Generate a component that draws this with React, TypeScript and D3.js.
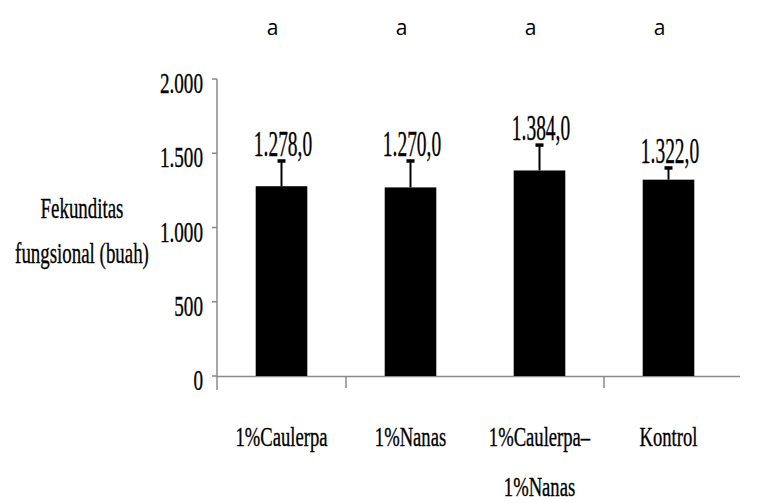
import React from "react";
import * as d3 from "d3";

const categories: string[][] = [["1%Caulerpa"], ["1%Nanas"], ["1%Caulerpa–", "1%Nanas"], ["Kontrol"]];
const means: number[] = [1278, 1270, 1384, 1322];
const errors: number[] = [170, 178, 171, 79];
const valueLabels: string[] = ["1.278,0", "1.270,0", "1.384,0", "1.322,0"];
const letters: string[] = ["a", "a", "a", "a"];
const yTicks: number[] = [0, 500, 1000, 1500, 2000];
const yTickLabels: string[] = ["0", "500", "1.000", "1.500", "2.000"];
const yTitle: string[] = ["Fekunditas", "fungsional (buah)"];
const xTickIdx: number[] = [1, 3];

const W = 758;
const H = 503;
const axisX = 217;
const x = d3
  .scaleBand<number>()
  .domain(d3.range(means.length))
  .range([axisX, axisX + 516])
  .paddingInner(0.6)
  .paddingOuter(0.3);
const y = d3.scaleLinear().domain([0, 2000]).range([376, 79]);
const serif = "'Liberation Serif', 'Times New Roman', serif";
const axisColor = "#8a8a8a";
const ink = { fill: "#000", stroke: "#000", strokeWidth: 0.35 };

export default function App() {
  const step = x.step();
  const bw = x.bandwidth();
  return (
    <svg
      width={W}
      height={H}
      style={{ position: "absolute", left: 0, top: 0, background: "#fff" }}
    >
      <rect x={0} y={0} width={W} height={H} fill="#fff" />
      {/* y axis */}
      <line x1={axisX} x2={axisX} y1={y(2000)} y2={y(0) + 14} stroke={axisColor} strokeWidth={1.5} />
      {yTicks.map((t, i) => (
        <g key={t}>
          <line x1={axisX - 5} x2={axisX} y1={y(t)} y2={y(t)} stroke={axisColor} strokeWidth={1.5} />
          <text
            transform={`translate(203,${y(t) + 14}) scale(0.66,1)`}
            textAnchor="end"
            fontFamily={serif}
            fontSize={29}
            {...ink}
          >
            {yTickLabels[i]}
          </text>
        </g>
      ))}
      {/* x axis */}
      <line x1={axisX} x2={740} y1={y(0) + 0.5} y2={y(0) + 0.5} stroke={axisColor} strokeWidth={1.5} />
      {xTickIdx.map((i) => {
        const bx = (x(i) as number) - (step * 0.6) / 2;
        return (
          <line key={i} x1={bx} x2={bx} y1={y(0)} y2={y(0) + 12} stroke={axisColor} strokeWidth={1.5} />
        );
      })}
      {/* y title */}
      {yTitle.map((s, i) => (
        <text
          key={s}
          transform={`translate(82,${218 + i * 45}) scale(0.63,1)`}
          textAnchor="middle"
          fontFamily={serif}
          fontSize={30}
          {...ink}
        >
          {s}
        </text>
      ))}
      {/* bars */}
      {means.map((m, i) => {
        const bx = x(i) as number;
        const cx = bx + bw / 2;
        const top = y(m + errors[i]);
        return (
          <g key={i}>
            <rect x={bx} y={y(m)} width={bw} height={y(0) - y(m)} fill="#000" />
            <line x1={cx} x2={cx} y1={y(m)} y2={top} stroke="#000" strokeWidth={2} />
            <line x1={cx - 4} x2={cx + 4} y1={top} y2={top} stroke="#000" strokeWidth={3.5} />
            <text
              transform={`translate(${cx + 1.5},${top - 5}) scale(0.54,1)`}
              textAnchor="middle"
              fontFamily={serif}
              fontSize={36}
              {...ink}
            >
              {valueLabels[i]}
            </text>
            <text
              x={cx - 9}
              y={35}
              textAnchor="middle"
              fontFamily="'Open Sans', sans-serif"
              fontSize={21}
              fill="#000"
            >
              {letters[i]}
            </text>
            {categories[i].map((line, j) => (
              <text
                key={j}
                transform={`translate(${cx},${446 + j * 50}) scale(0.69,1)`}
                textAnchor="middle"
                fontFamily={serif}
                fontSize={27}
                {...ink}
              >
                {line}
              </text>
            ))}
          </g>
        );
      })}
    </svg>
  );
}
